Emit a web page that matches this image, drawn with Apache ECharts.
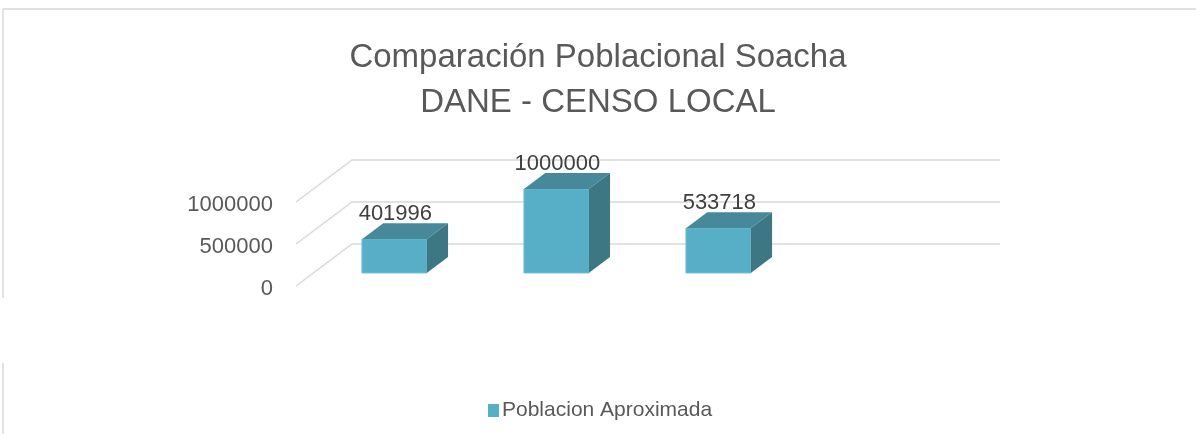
<!DOCTYPE html>
<html>
<head>
<meta charset="utf-8">
<script src="https://cdn.jsdelivr.net/npm/echarts@6/dist/echarts.min.js"></script>
<style>
  html, body { margin: 0; padding: 0; background: #fff; }
  #chart { width: 1196px; height: 434px; }
</style>
</head>
<body>
<div id="chart"></div>
<script>
// data
var categories = ['1', '2', '3', '4']
var poblacion = [401996, 1000000, 533718, null]
var gridLevels = [0, 500000, 1000000]
var seriesName = 'Poblacion Aproximada'

// 3d look (pixels)
var DEPTH_X = 56
var DEPTH_Y = -42
var FONT = '"Liberation Sans", sans-serif'
var colors = {
  front: '#56afc7',
  top: '#47899b',
  side: '#3e7784',
  grid: '#d9d9d9',
  text: '#595959'
}

var chart = echarts.init(document.getElementById('chart'))

function renderGrid(params, api) {
  var p = api.coord([0, api.value(1)])
  var cs = params.coordSys
  return {
    type: 'polyline',
    shape: {
      points: [
        [cs.x, p[1]],
        [cs.x + DEPTH_X, p[1] + DEPTH_Y],
        [cs.x + cs.width + DEPTH_X, p[1] + DEPTH_Y]
      ]
    },
    style: { stroke: colors.grid, lineWidth: 1.5, fill: null }
  }
}

function renderBar(params, api) {
  var v = api.value(1)
  if (v == null || isNaN(v)) return
  var base = api.coord([api.value(0), 0])
  var top = api.coord([api.value(0), v])
  var w = api.size([1, 0])[0] * 0.4
  var ox = DEPTH_X * 0.31, oy = DEPTH_Y * 0.31
  var sx = DEPTH_X * 0.38, sy = DEPTH_Y * 0.38
  var x0 = base[0] + ox - w / 2, x1 = x0 + w
  var yb = base[1] + oy, yt = top[1] + oy
  return {
    type: 'group',
    children: [
      {
        type: 'polygon',
        shape: { points: [[x0, yb], [x0, yt], [x1, yt], [x1, yb]] },
        style: { fill: colors.front, stroke: '#6cc0d6', lineWidth: 1 }
      },
      {
        type: 'polygon',
        shape: { points: [[x0, yt], [x1, yt], [x1 + sx, yt + sy], [x0 + sx, yt + sy]] },
        style: { fill: colors.top }
      },
      {
        type: 'polygon',
        shape: { points: [[x1, yt], [x1 + sx, yt + sy], [x1 + sx, yb + sy], [x1, yb]] },
        style: { fill: colors.side }
      },
      {
        type: 'text',
        style: {
          x: (x0 + x1) / 2 + 1,
          y: yt + sy + 2,
          text: String(v),
          align: 'center',
          verticalAlign: 'bottom',
          fill: '#404040',
          font: '22px ' + FONT
        }
      }
    ]
  }
}

chart.setOption({
  animation: false,
  color: [colors.front],
  title: {
    text: 'Comparación Poblacional Soacha\nDANE - CENSO LOCAL',
    left: 'center',
    top: 30,
    textStyle: {
      fontFamily: FONT,
      fontSize: 33,
      fontWeight: 'normal',
      color: colors.text,
      lineHeight: 45
    }
  },
  legend: {
    data: [seriesName],
    left: 483,
    top: 395,
    icon: 'rect',
    itemWidth: 11,
    itemHeight: 13,
    itemGap: 6,
    textStyle: { fontFamily: FONT, fontSize: 21, color: colors.text, padding: [0, 0, 0, -2] }
  },
  grid: { left: 296, right: 252, top: 202, bottom: 148 },
  xAxis: {
    type: 'category',
    data: categories,
    show: false
  },
  yAxis: {
    type: 'value',
    min: 0,
    max: 1000000,
    interval: 500000,
    axisLine: { show: false },
    axisTick: { show: false },
    splitLine: { show: false },
    axisLabel: {
      margin: 23,
      fontFamily: FONT,
      fontSize: 22,
      color: colors.text,
      formatter: function(v) { return '{a|' + v + '}' },
      rich: {
        a: { fontFamily: FONT, fontSize: 22, color: colors.text, padding: [6, 0, 0, 0] }
      }
    }
  },
  graphic: [
    { type: 'line', shape: { x1: 3, y1: 9, x2: 1196, y2: 9 }, style: { stroke: colors.grid, lineWidth: 1.5 } },
    { type: 'line', shape: { x1: 3, y1: 9, x2: 3, y2: 298 }, style: { stroke: colors.grid, lineWidth: 1.5 } },
    { type: 'line', shape: { x1: 3, y1: 363, x2: 3, y2: 434 }, style: { stroke: colors.grid, lineWidth: 1.5 } }
  ],
  series: [
    {
      type: 'custom',
      name: 'grid',
      z: 1,
      silent: true,
      renderItem: renderGrid,
      data: gridLevels.map(function(v) { return [0, v] })
    },
    {
      type: 'custom',
      name: seriesName,
      z: 2,
      itemStyle: { color: colors.front },
      renderItem: renderBar,
      data: poblacion.map(function(v, i) { return [i, v] })
    }
  ]
})
</script>
</body>
</html>
